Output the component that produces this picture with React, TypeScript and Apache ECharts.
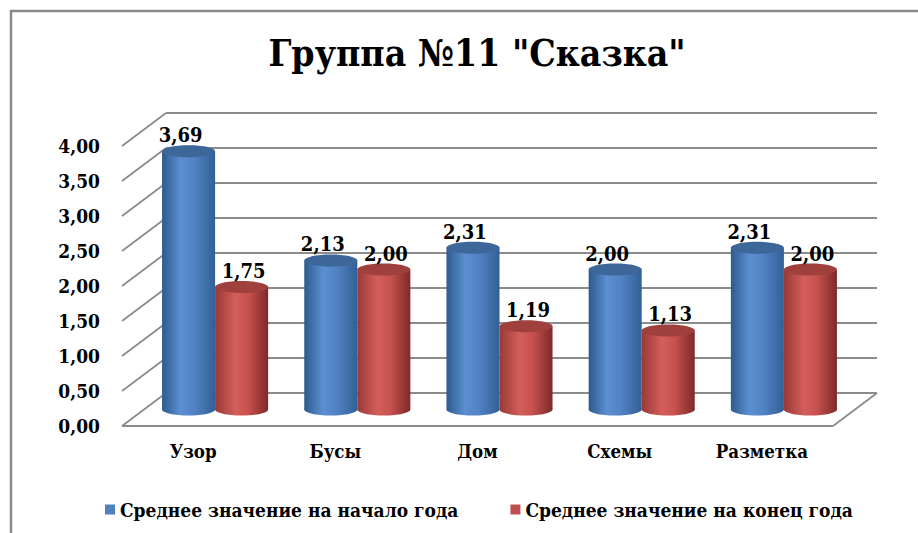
import React, { useEffect, useRef } from "react";
import * as echarts from "echarts";

const categories = ["Узор", "Бусы", "Дом", "Схемы", "Разметка"];
const startValues = [3.69, 2.13, 2.31, 2.0, 2.31];
const endValues = [1.75, 2.0, 1.19, 1.13, 2.0];
const seriesNames = ["Среднее значение на начало года", "Среднее значение на конец года"];
const yTicks = [0, 0.5, 1, 1.5, 2, 2.5, 3, 3.5, 4];

const FONT = "DejaVu Serif Condensed";
const DX = 44;
const DY = -33;

const fmt = (v: number) => v.toFixed(2).replace(".", ",");

const palettes = [
  {
    body: [
      [0, "#2d5a8e"],
      [0.35, "#5b8fd1"],
      [0.6, "#5283c4"],
      [1, "#325f97"],
    ],
    top: "#3d6699",
    legend: "#4f81bd",
    labelShift: -8,
    side: -1,
  },
  {
    body: [
      [0, "#993937"],
      [0.38, "#d35e5a"],
      [0.62, "#c7514e"],
      [1, "#7c2a29"],
    ],
    top: "#a0403d",
    legend: "#c0504d",
    labelShift: 2,
    side: 1,
  },
];

function makeBarRender(p: any) {
  return (params: any, api: any) => {
    const idx = api.value(0);
    const val = api.value(1);
    const base = api.coord([idx, 0]);
    const top = api.coord([idx, val]);
    const band = api.size([1, 0])[0];
    const w = band * 0.373;
    const cx = base[0] + DX / 2 + (p.side * w) / 2;
    const yBase = base[1] + DY / 2;
    const yTop = top[1] + DY / 2;
    const ry = 6;
    const grad = new echarts.graphic.LinearGradient(
      0,
      0,
      1,
      0,
      p.body.map((s: any) => ({ offset: s[0], color: s[1] }))
    );
    return {
      type: "group",
      children: [
        {
          type: "ellipse",
          shape: { cx, cy: yBase, rx: w / 2, ry },
          style: { fill: grad },
        },
        {
          type: "rect",
          shape: { x: cx - w / 2, y: yTop, width: w, height: yBase - yTop },
          style: { fill: grad },
        },
        {
          type: "ellipse",
          shape: { cx, cy: yTop, rx: w / 2, ry },
          style: { fill: p.top },
        },
        {
          type: "text",
          x: cx + p.labelShift,
          y: yTop - 16,
          style: {
            text: fmt(val),
            fill: "#000",
            fontFamily: FONT,
            fontWeight: "bold",
            fontSize: 20,
            align: "center",
            verticalAlign: "middle",
          },
        },
      ],
    };
  };
}

function renderWalls(params: any, api: any) {
  const v = api.value(1);
  const cs = params.coordSys;
  const y = api.coord([0, v])[1];
  const lineStyle = { stroke: "#8c8c8c", lineWidth: 1.8 };
  const children: any[] = [
    {
      type: "line",
      shape: { x1: cs.x, y1: y, x2: cs.x + DX, y2: y + DY },
      style: lineStyle,
    },
    {
      type: "line",
      shape: { x1: cs.x + DX, y1: y + DY, x2: cs.x + cs.width + DX, y2: y + DY },
      style: lineStyle,
    },
  ];
  if (v === 0) {
    children.push(
      {
        type: "line",
        shape: { x1: cs.x, y1: y, x2: cs.x + cs.width, y2: y },
        style: lineStyle,
      },
      {
        type: "line",
        shape: { x1: cs.x + cs.width, y1: y, x2: cs.x + cs.width + DX, y2: y + DY },
        style: lineStyle,
      }
    );
  }
  return { type: "group", children };
}

export default function App() {
  const ref = useRef<HTMLDivElement>(null);
  useEffect(() => {
    document.body.style.margin = "0";
    const chart = echarts.init(ref.current!, null, { renderer: "svg" });
    chart.setOption({
      animation: false,
      backgroundColor: "#ffffff",
      title: {
        text: 'Группа №11 "Сказка"',
        left: 472,
        textAlign: "center",
        top: 29,
        textStyle: { fontFamily: FONT, fontWeight: "bold", fontSize: 37, color: "#000" },
      },
      graphic: [
        {
          type: "rect",
          shape: { x: 11, y: 11, width: 960, height: 600 },
          style: { fill: "none", stroke: "#8a8a8a", lineWidth: 2.5 },
          silent: true,
        },
      ],
      legend: {
        data: seriesNames,
        left: 100,
        top: 495,
        itemWidth: 10,
        itemHeight: 10,
        itemGap: 52,
        icon: "rect",
        textStyle: { fontFamily: FONT, fontWeight: "bold", fontSize: 19, color: "#000" },
      },
      grid: { left: 122, right: 85, top: 146, bottom: 107, containLabel: false },
      xAxis: {
        type: "category",
        data: categories,
        axisLine: { show: false },
        axisTick: { show: false },
        axisLabel: {
          margin: 16,
          color: "#000",
          fontFamily: FONT,
          fontWeight: "bold",
          fontSize: 18.5,
        },
      },
      yAxis: {
        type: "value",
        min: 0,
        max: 4,
        interval: 0.5,
        axisLine: { show: false },
        axisTick: { show: false },
        splitLine: { show: false },
        axisLabel: {
          margin: 22,
          color: "#000",
          fontFamily: FONT,
          fontWeight: "bold",
          fontSize: 19,
          formatter: (v: number) => fmt(v),
        },
      },
      series: [
        {
          type: "custom",
          name: "walls",
          silent: true,
          z: 1,
          renderItem: renderWalls,
          data: yTicks.map((v) => [0, v]),
        },
        {
          type: "custom",
          name: seriesNames[0],
          z: 2,
          itemStyle: { color: palettes[0].legend },
          renderItem: makeBarRender(palettes[0]),
          data: startValues.map((v, i) => [i, v]),
        },
        {
          type: "custom",
          name: seriesNames[1],
          z: 3,
          itemStyle: { color: palettes[1].legend },
          renderItem: makeBarRender(palettes[1]),
          data: endValues.map((v, i) => [i, v]),
        },
      ],
    });
    return () => chart.dispose();
  }, []);
  return <div ref={ref} style={{ width: 918, height: 533 }} />;
}
